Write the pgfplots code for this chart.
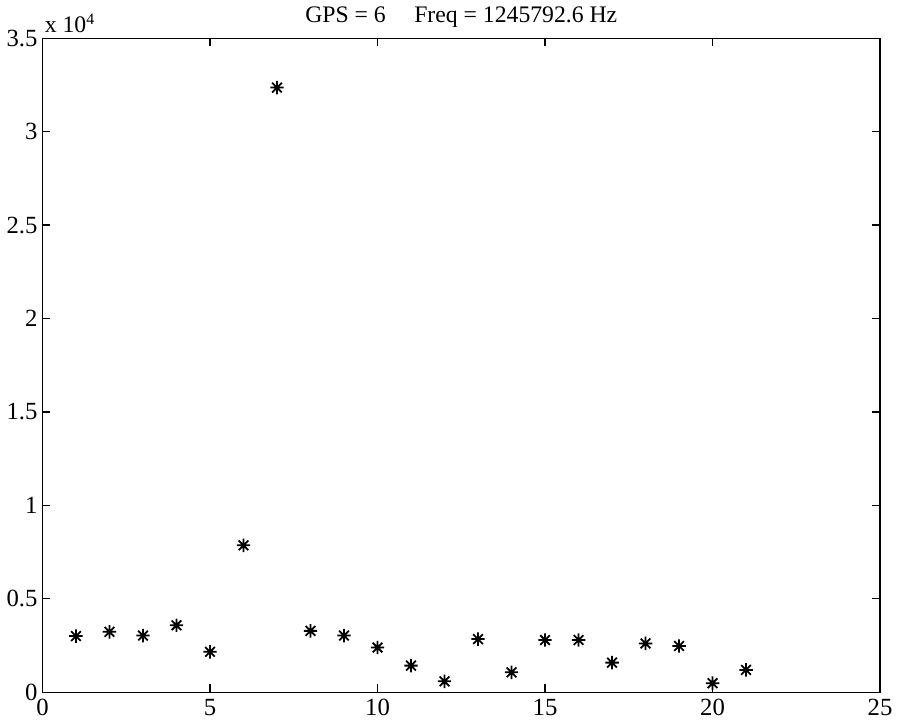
\documentclass[border=0pt]{standalone}
\usepackage{pgfplots}
\pgfplotsset{compat=1.18}
\usepackage{fontspec}
\setmainfont{Liberation Serif}
\pgfdeclareplotmark{mstar}{%
  \pgfpathmoveto{\pgfqpoint{-\pgfplotmarksize}{0pt}}\pgfpathlineto{\pgfqpoint{\pgfplotmarksize}{0pt}}%
  \pgfpathmoveto{\pgfqpoint{0pt}{-\pgfplotmarksize}}\pgfpathlineto{\pgfqpoint{0pt}{\pgfplotmarksize}}%
  \pgfpathmoveto{\pgfqpoint{-0.72\pgfplotmarksize}{-0.72\pgfplotmarksize}}\pgfpathlineto{\pgfqpoint{0.72\pgfplotmarksize}{0.72\pgfplotmarksize}}%
  \pgfpathmoveto{\pgfqpoint{-0.72\pgfplotmarksize}{0.72\pgfplotmarksize}}\pgfpathlineto{\pgfqpoint{0.72\pgfplotmarksize}{-0.72\pgfplotmarksize}}%
  \pgfusepathqstroke}
\begin{document}
\begin{tikzpicture}
\begin{axis}[
  width=424pt, height=331pt, scale only axis,
  xmin=0, xmax=25, ymin=0, ymax=35000,
  xtick={0,5,...,25},
  ytick={0,5000,10000,15000,20000,25000,30000,35000},
  yticklabels={0,0.5,1,1.5,2,2.5,3,3.5},
  scaled y ticks=false,
  tick align=inside, major tick length=4pt,
  axis line style={line width=0.6pt}, tick style={line width=0.6pt, black},
  /pgf/number format/assume math mode=true,
  tick label style={font=\fontsize{12.5}{14}\selectfont},
  yticklabel style={xshift=1pt},
  title={GPS = 6\hspace{1.2em}Freq = 1245792.6 Hz},
  title style={font=\fontsize{12}{14}\selectfont, yshift=-4pt},
  clip=false,
]
\addplot[only marks, mark=mstar, mark size=3.4pt, mark options={line width=0.9pt, black}] coordinates {
(1,3000) (2,3230) (3,3030) (4,3580) (5,2160) (6,7860) (7,32360)
(8,3280) (9,3030) (10,2390) (11,1420) (12,580) (13,2840) (14,1060)
(15,2790) (16,2790) (17,1580) (18,2610) (19,2470) (20,480) (21,1190)
};
\node[anchor=south west, font=\fontsize{12}{14}\selectfont, inner sep=1pt] at ([yshift=1.5pt]rel axis cs:0,1) {x 10\textsuperscript{4}};
\end{axis}
\end{tikzpicture}
\end{document}
